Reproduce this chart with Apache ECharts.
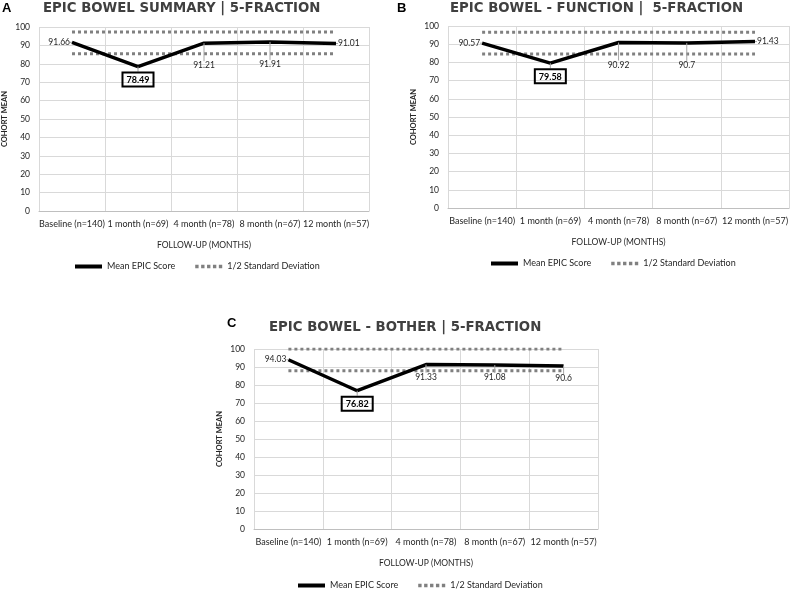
<!DOCTYPE html>
<html>
<head>
<meta charset="utf-8">
<script src="https://cdn.jsdelivr.net/npm/echarts@6/dist/echarts.min.js"></script>
<style>
  html, body { margin: 0; padding: 0; background: #fff; }
  #chart { width: 791px; height: 589px; }
</style>
</head>
<body>
<div id="chart"></div>
<script>
  var categories = ['Baseline (n=140)', '1 month (n=69)', '4 month (n=78)', '8 month (n=67)', '12 month (n=57)']
  var yTicks = [0, 10, 20, 30, 40, 50, 60, 70, 80, 90, 100]

  // A - summary
  var summaryMean = [91.66, 78.49, 91.21, 91.91, 91.01]
  var summarySdHigh = [97.3, 97.3, 97.3, 97.3, 97.3]
  var summarySdLow = [85.5, 85.5, 85.5, 85.5, 85.5]
  // B - function
  var functionMean = [90.57, 79.58, 90.92, 90.7, 91.43]
  var functionSdHigh = [96.6, 96.6, 96.6, 96.6, 96.6]
  var functionSdLow = [84.6, 84.6, 84.6, 84.6, 84.6]
  // C - bother
  var botherMean = [94.03, 76.82, 91.33, 91.08, 90.6]
  var botherSdHigh = [100, 100, 100, 100, 100]
  var botherSdLow = [87.9, 87.9, 87.9, 87.9, 87.9]

  var panels = [
    { letter: 'A', title: 'EPIC BOWEL SUMMARY | 5-FRACTION', mean: summaryMean, hi: summarySdHigh, lo: summarySdLow,
      grid: { left: 37, right: 422, top: 27, bottom: 378 }, letterPos: [2, 2], titlePos: [43, 2], legendPos: [70, 257], leader: true },
    { letter: 'B', title: 'EPIC BOWEL - FUNCTION |  5-FRACTION', mean: functionMean, hi: functionSdHigh, lo: functionSdLow,
      grid: { left: 448, right: 1, top: 26, bottom: 381 }, letterPos: [397, 2], titlePos: [450, 2], legendPos: [486, 254], leader: true },
    { letter: 'C', title: 'EPIC BOWEL - BOTHER | 5-FRACTION', mean: botherMean, hi: botherSdHigh, lo: botherSdLow,
      grid: { left: 254, right: 193, top: 349, bottom: 60 }, letterPos: [227, 317], titlePos: [269, 321], legendPos: [293, 576], leader: false }
  ]

  var font = 'Lato, "Open Sans", sans-serif'
  var dots = 'path://M0,0h4v4h-4zM7,0h4v4h-4zM14,0h4v4h-4zM21,0h4v4h-4zM28,0h4v4h-4z'
  var option = { animation: false, title: [], grid: [], xAxis: [], yAxis: [], legend: [], series: [] }

  panels.forEach(function (p, k) {
    option.title.push({
      text: p.letter, left: p.letterPos[0], top: p.letterPos[1], padding: 0,
      textStyle: { fontFamily: 'Liberation Sans', fontWeight: 'bold', fontSize: 13, color: '#000' }
    })
    option.title.push({
      text: p.title, left: p.titlePos[0], top: p.titlePos[1], padding: 0,
      textStyle: { fontFamily: 'DejaVu Sans', fontWeight: 'bold', fontSize: 13.3, color: '#404040' }
    })
    option.grid.push(p.grid)
    option.xAxis.push({
      type: 'category', gridIndex: k, data: categories, boundaryGap: true,
      name: 'FOLLOW-UP (MONTHS)', nameLocation: 'middle', nameGap: 30,
      nameTextStyle: { fontFamily: font, fontSize: 8.5, color: '#262626' },
      axisLine: { lineStyle: { color: '#bfbfbf' } },
      axisTick: { show: false },
      axisLabel: { fontFamily: font, fontSize: 9, color: '#262626', margin: 9, interval: 0 },
      splitLine: { show: true, lineStyle: { color: '#d9d9d9' } }
    })
    option.yAxis.push({
      type: 'value', gridIndex: k, min: 0, max: 100, interval: 10,
      name: 'COHORT MEAN', nameLocation: 'middle', nameGap: 30,
      nameTextStyle: { fontFamily: font, fontSize: 7.5, fontWeight: 'bold', color: '#262626' },
      axisLine: { show: false }, axisTick: { show: false },
      axisLabel: {
        fontFamily: font, fontSize: 8.5, color: '#262626', margin: 9,
        formatter: function (v) { return yTicks.indexOf(v) >= 0 ? String(v) : '' }
      },
      splitLine: { lineStyle: { color: '#d9d9d9' } }
    })
    option.legend.push({
      left: p.legendPos[0], top: p.legendPos[1], itemWidth: 27, itemHeight: 4, itemGap: 20,
      data: [{ name: 'Mean EPIC Score', icon: 'rect' }, { name: '1/2 Standard Deviation', icon: dots }],
      textStyle: { fontFamily: font, fontSize: 9, color: '#262626' }
    })

    var meanData = p.mean.map(function (v, i) {
      var lab
      if (i === 0) lab = { position: 'left', offset: [4, 9], distance: 2 }
      else if (i === 1) lab = {
        position: 'bottom', distance: 6, color: '#000', fontWeight: 'bold', fontSize: 9,
        borderColor: '#000', borderWidth: 2, padding: [3, 4, 2, 4]
      }
      else if (i === 4 && p.leader) lab = { position: 'right', offset: [-4, 8], distance: 2 }
      else lab = { position: 'bottom', distance: p.leader ? 6 : 8 }
      return { value: v, label: lab }
    })

    option.series.push({
      name: 'Mean EPIC Score', type: 'line', xAxisIndex: k, yAxisIndex: k,
      data: meanData, symbol: 'circle', symbolSize: 0.01, showSymbol: true, z: 5,
      lineStyle: { color: '#000', width: 3.5 },
      itemStyle: { color: '#000' },
      label: { show: true, fontFamily: font, fontSize: 8.5, color: '#262626' },
      labelLine: { show: true, lineStyle: { color: '#a6a6a6', width: 1 } },
      labelLayout: function (params) {
        if (p.leader && (params.dataIndex === 2 || params.dataIndex === 3)) return { dy: 12 }
        return {}
      }
    })
    ;[p.hi, p.lo].forEach(function (arr) {
      option.series.push({
        name: '1/2 Standard Deviation', type: 'line', xAxisIndex: k, yAxisIndex: k,
        data: arr, symbol: 'none', z: 3,
        lineStyle: { color: '#808080', width: 3, type: [3, 3] },
        itemStyle: { color: '#808080' }
      })
    })
  })

  var myChart = echarts.init(document.getElementById('chart'))
  myChart.setOption(option)
</script>
</body>
</html>
